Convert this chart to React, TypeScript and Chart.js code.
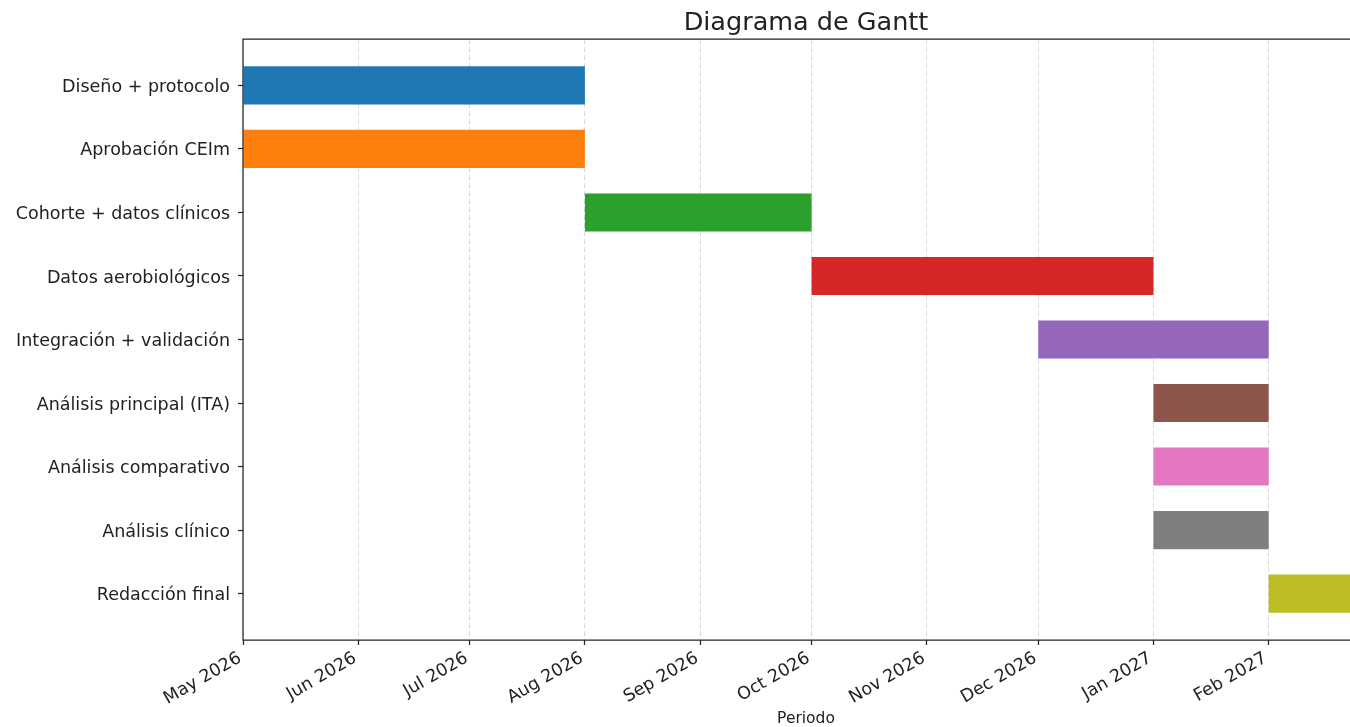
import { useEffect, useRef } from 'react';
import { Chart, registerables } from 'chart.js';

Chart.register(...registerables);

const tasks = [
  'Diseño + protocolo',
  'Aprobación CEIm',
  'Cohorte + datos clínicos',
  'Datos aerobiológicos',
  'Integración + validación',
  'Análisis principal (ITA)',
  'Análisis comparativo',
  'Análisis clínico',
  'Redacción final',
];

const startDates = [
  '2026-05-01',
  '2026-05-01',
  '2026-08-01',
  '2026-10-01',
  '2026-12-01',
  '2027-01-01',
  '2027-01-01',
  '2027-01-01',
  '2027-02-01',
];

const endDates = [
  '2026-08-01',
  '2026-08-01',
  '2026-10-01',
  '2027-01-01',
  '2027-02-01',
  '2027-02-01',
  '2027-02-01',
  '2027-02-01',
  '2027-02-28',
];

const barColors = [
  '#1f77b4',
  '#ff7f0e',
  '#2ca02c',
  '#d62728',
  '#9467bd',
  '#8c564b',
  '#e377c2',
  '#7f7f7f',
  '#bcbd22',
];

const monthTickDates = [
  '2026-05-01',
  '2026-06-01',
  '2026-07-01',
  '2026-08-01',
  '2026-09-01',
  '2026-10-01',
  '2026-11-01',
  '2026-12-01',
  '2027-01-01',
  '2027-02-01',
];

const monthTickLabels = [
  'May 2026',
  'Jun 2026',
  'Jul 2026',
  'Aug 2026',
  'Sep 2026',
  'Oct 2026',
  'Nov 2026',
  'Dec 2026',
  'Jan 2027',
  'Feb 2027',
];

const axisStart = '2026-05-01';
const axisEnd = '2027-02-28';
const chartTitle = 'Diagrama de Gantt';
const xAxisTitle = 'Periodo';

const FONT = "'DejaVu Sans', sans-serif";
const TEXT = '#222222';
const SPINE = '#262626';

const dayOf = (s: string) =>
  (Date.parse(s + 'T00:00:00Z') - Date.parse(axisStart + 'T00:00:00Z')) / 86400000;

export default function App() {
  const ref = useRef<HTMLCanvasElement>(null);

  useEffect(() => {
    document.body.style.margin = '0';
    const canvas = ref.current;
    if (!canvas) return;

    const framePlugin = {
      id: 'frame',
      afterDatasetsDraw(chart: any) {
        const { ctx, chartArea: a } = chart;
        ctx.save();
        ctx.strokeStyle = SPINE;
        ctx.lineWidth = 1.25;
        ctx.beginPath();
        ctx.moveTo(a.left, a.bottom);
        ctx.lineTo(a.left, a.top);
        ctx.lineTo(a.right, a.top);
        ctx.lineTo(a.right, a.bottom);
        ctx.closePath();
        ctx.stroke();
        ctx.restore();
      },
      afterDraw(chart: any) {
        const { ctx, chartArea: a } = chart;
        ctx.save();
        ctx.fillStyle = TEXT;
        ctx.font = `25.5px ${FONT}`;
        ctx.textAlign = 'center';
        ctx.textBaseline = 'alphabetic';
        ctx.fillText(chartTitle, (a.left + a.right) / 2, 29.5);
        ctx.restore();
      },
    };

    const chart = new Chart(canvas, {
      type: 'bar',
      data: {
        datasets: [
          {
            data: tasks.map((_, i) => ({
              x: [dayOf(startDates[i]), dayOf(endDates[i])],
              y: i,
            })) as any,
            backgroundColor: barColors,
            borderWidth: 0,
            categoryPercentage: 1,
            barPercentage: 0.6,
          },
        ],
      },
      options: {
        indexAxis: 'y',
        responsive: false,
        animation: false,
        devicePixelRatio: 1,
        layout: { padding: { top: 39, right: 3, left: 0, bottom: 0 } },
        plugins: {
          legend: { display: false },
          tooltip: { enabled: false },
          title: { display: false },
        },
        scales: {
          x: {
            type: 'linear',
            min: 0,
            max: dayOf(axisEnd),
            offset: false,
            afterBuildTicks: (s: any) => {
              s.ticks = monthTickDates.map((d) => ({ value: dayOf(d) }));
            },
            afterFit: (s: any) => {
              s.height = 87;
            },
            ticks: {
              autoSkip: false,
              minRotation: 30,
              maxRotation: 30,
              padding: 3,
              labelOffset: -3,
              color: TEXT,
              font: { family: FONT, size: 17.5 },
              callback: (v: any) => {
                const idx = monthTickDates.findIndex((d) => dayOf(d) === v);
                return idx >= 0 ? monthTickLabels[idx] : '';
              },
            },
            grid: {
              offset: false,
              color: '#dadada',
              lineWidth: 1,
              tickColor: SPINE,
              tickLength: 5,
              tickWidth: 1.25,
            },
            border: { display: false, dash: [5, 3] },
            title: {
              display: true,
              text: xAxisTitle,
              color: TEXT,
              font: { family: FONT, size: 15.5, lineHeight: 1.0 },
              padding: { top: 0, bottom: 0 },
            },
          },
          y: {
            type: 'linear',
            reverse: true,
            min: -0.73,
            max: 8.73,
            offset: false,
            afterBuildTicks: (s: any) => {
              s.ticks = tasks.map((_, i) => ({ value: i }));
            },
            afterFit: (s: any) => {
              s.width = 243;
            },
            ticks: {
              autoSkip: false,
              padding: 8,
              labelOffset: 2,
              color: TEXT,
              font: { family: FONT, size: 17.5 },
              callback: (v: any) => tasks[v] ?? '',
            },
            grid: {
              offset: false,
              drawOnChartArea: false,
              tickColor: SPINE,
              tickLength: 5,
              tickWidth: 1.25,
            },
            border: { display: false },
          },
        },
      } as any,
      plugins: [framePlugin],
    });

    return () => chart.destroy();
  }, []);

  return (
    <div style={{ width: 1350, height: 727, overflow: 'hidden' }}>
      <canvas ref={ref} width={1372} height={727} style={{ display: 'block' }} />
    </div>
  );
}
